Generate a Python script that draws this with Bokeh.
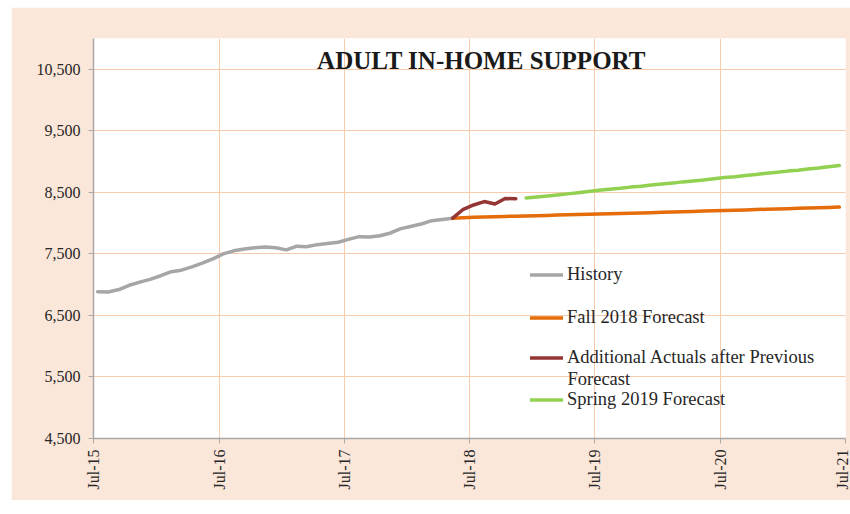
import math
import pandas as pd
from bokeh.plotting import figure
from bokeh.models import (ColumnDataSource, FixedTicker, DatetimeTickFormatter,
                          NumeralTickFormatter, Legend, LegendItem, Label, Range1d)
from bokeh.embed import file_html
from bokeh.resources import INLINE

# ---------------- data ----------------
tick_labels = ["Jul-15", "Jul-16", "Jul-17", "Jul-18", "Jul-19", "Jul-20", "Jul-21"]
y_ticks = [4500, 5500, 6500, 7500, 8500, 9500, 10500]

history_start = "2015-07"
history_values = [6885, 6880, 6920, 6990, 7040, 7085, 7145, 7210, 7235, 7290, 7350, 7420,
                  7500, 7550, 7578, 7600, 7610, 7600, 7565, 7625, 7615, 7650, 7670, 7690,
                  7735, 7780, 7775, 7795, 7840, 7910, 7950, 7990, 8040, 8060, 8080]

fall_start = "2018-05"
fall_values = [8080, 8088, 8094, 8099, 8104, 8109, 8113, 8117, 8121, 8125,
               8130, 8135, 8140, 8145, 8150, 8154, 8158, 8162, 8166, 8170,
               8175, 8180, 8185, 8190, 8195, 8200, 8205, 8210, 8215, 8220,
               8225, 8230, 8235, 8240, 8245, 8250, 8255, 8260]

additional_start = "2018-05"
additional_values = [8080, 8225, 8295, 8350, 8310, 8400, 8395]

spring_start = "2018-12"
spring_values = [8410, 8425, 8440, 8455, 8475, 8495, 8515, 8535, 8550, 8565,
                 8585, 8600, 8620, 8635, 8650, 8670, 8685, 8700, 8720, 8740,
                 8755, 8775, 8790, 8810, 8825, 8845, 8860, 8880, 8895, 8915, 8935]

series_names = ["History", "Fall 2018 Forecast",
                "Additional Actuals after Previous", "Spring 2019 Forecast"]
series_name_continued = "Forecast"
series_colors = ["#A6A6A6", "#E46C0A", "#943634", "#92D050"]

# ---------------- helpers ----------------
def month_dates(start, n):
    # points sit within their month (Excel date axis look)
    return pd.date_range(start + "-01", periods=n, freq="MS") + pd.Timedelta(days=12)

tick_dates = pd.to_datetime(tick_labels, format="%b-%y")
tick_ms = [d.value / 1e6 for d in tick_dates]

FONT = "Liberation Serif"
BG = "#FBE7D9"
GRID = "#F8CBAD"
TEXT = "#262626"

p = figure(width=839, height=493, x_axis_type="datetime",
           output_backend="svg", toolbar_location=None,
           x_range=Range1d(tick_dates[0], tick_dates[-1]),
           y_range=Range1d(4500, 11000),
           min_border_left=82, min_border_right=5,
           min_border_top=31, min_border_bottom=62,
           margin=(7, 0, 0, 11))

p.background_fill_color = "white"
p.border_fill_color = BG
p.outline_line_color = None

# axes
p.xaxis.ticker = FixedTicker(ticks=tick_ms)
fmt = "%b-%y"
p.xaxis.formatter = DatetimeTickFormatter(milliseconds=fmt, seconds=fmt, minsec=fmt,
                                          minutes=fmt, hourmin=fmt, hours=fmt,
                                          days=fmt, months=fmt, years=fmt)
p.xaxis.major_label_orientation = math.pi / 2
p.yaxis.ticker = FixedTicker(ticks=y_ticks)
p.yaxis.formatter = NumeralTickFormatter(format="0,0")

for ax in (p.xaxis[0], p.yaxis[0]):
    ax.axis_line_color = "#A8A8A8"
    ax.axis_line_width = 1.5
    ax.major_tick_line_color = "#A8A8A8"
    ax.major_tick_in = 0
    ax.major_tick_out = 5
    ax.minor_tick_line_color = None
    ax.major_label_text_font = FONT
    ax.major_label_text_color = TEXT
    ax.major_label_standoff = 6
p.xaxis.major_label_text_font_size = "16px"
p.yaxis.major_label_text_font_size = "16px"
p.yaxis.major_label_standoff = 8

p.xgrid.ticker = FixedTicker(ticks=tick_ms)
p.ygrid.ticker = FixedTicker(ticks=y_ticks)
p.xgrid.grid_line_color = GRID
p.ygrid.grid_line_color = GRID

# lines
def add(start, values, color):
    src = ColumnDataSource(dict(x=month_dates(start, len(values)), y=values))
    return p.line("x", "y", source=src, line_color=color, line_width=3.5,
                  line_join="round", line_cap="round")

r_hist = add(history_start, history_values, series_colors[0])
r_fall = add(fall_start, fall_values, series_colors[1])
r_add = add(additional_start, additional_values, series_colors[2])
r_spring = add(spring_start, spring_values, series_colors[3])

def make_legend(items, loc, spacing):
    lg = Legend(items=items, location=loc, spacing=spacing,
                padding=0, margin=0, glyph_width=33, glyph_height=21,
                label_height=21, label_standoff=4,
                label_text_font=FONT, label_text_font_size="18.5px",
                label_text_color=TEXT,
                background_fill_alpha=0, border_line_color=None)
    p.add_layout(lg)

make_legend([LegendItem(label=series_names[0], renderers=[r_hist]),
             LegendItem(label=series_names[1], renderers=[r_fall])], (437, 110), 22)
make_legend([LegendItem(label=series_names[2], renderers=[r_add]),
             LegendItem(label=series_names[3], renderers=[r_spring])], (437, 28), 21)

# second line of the wrapped legend label
p.add_layout(Label(x=474, y=60, x_units="screen", y_units="screen",
                   text=series_name_continued, text_font=FONT,
                   text_font_size="18.5px", text_color=TEXT,
                   text_align="left", text_baseline="middle"))

p.add_layout(Label(x=388, y=378, x_units="screen", y_units="screen",
                   text="ADULT IN-HOME SUPPORT", text_font=FONT,
                   text_font_style="bold", text_font_size="25px",
                   text_color="#1a1a1a", text_align="center", text_baseline="middle"))

open("out.html", "w").write(file_html(p, INLINE))
